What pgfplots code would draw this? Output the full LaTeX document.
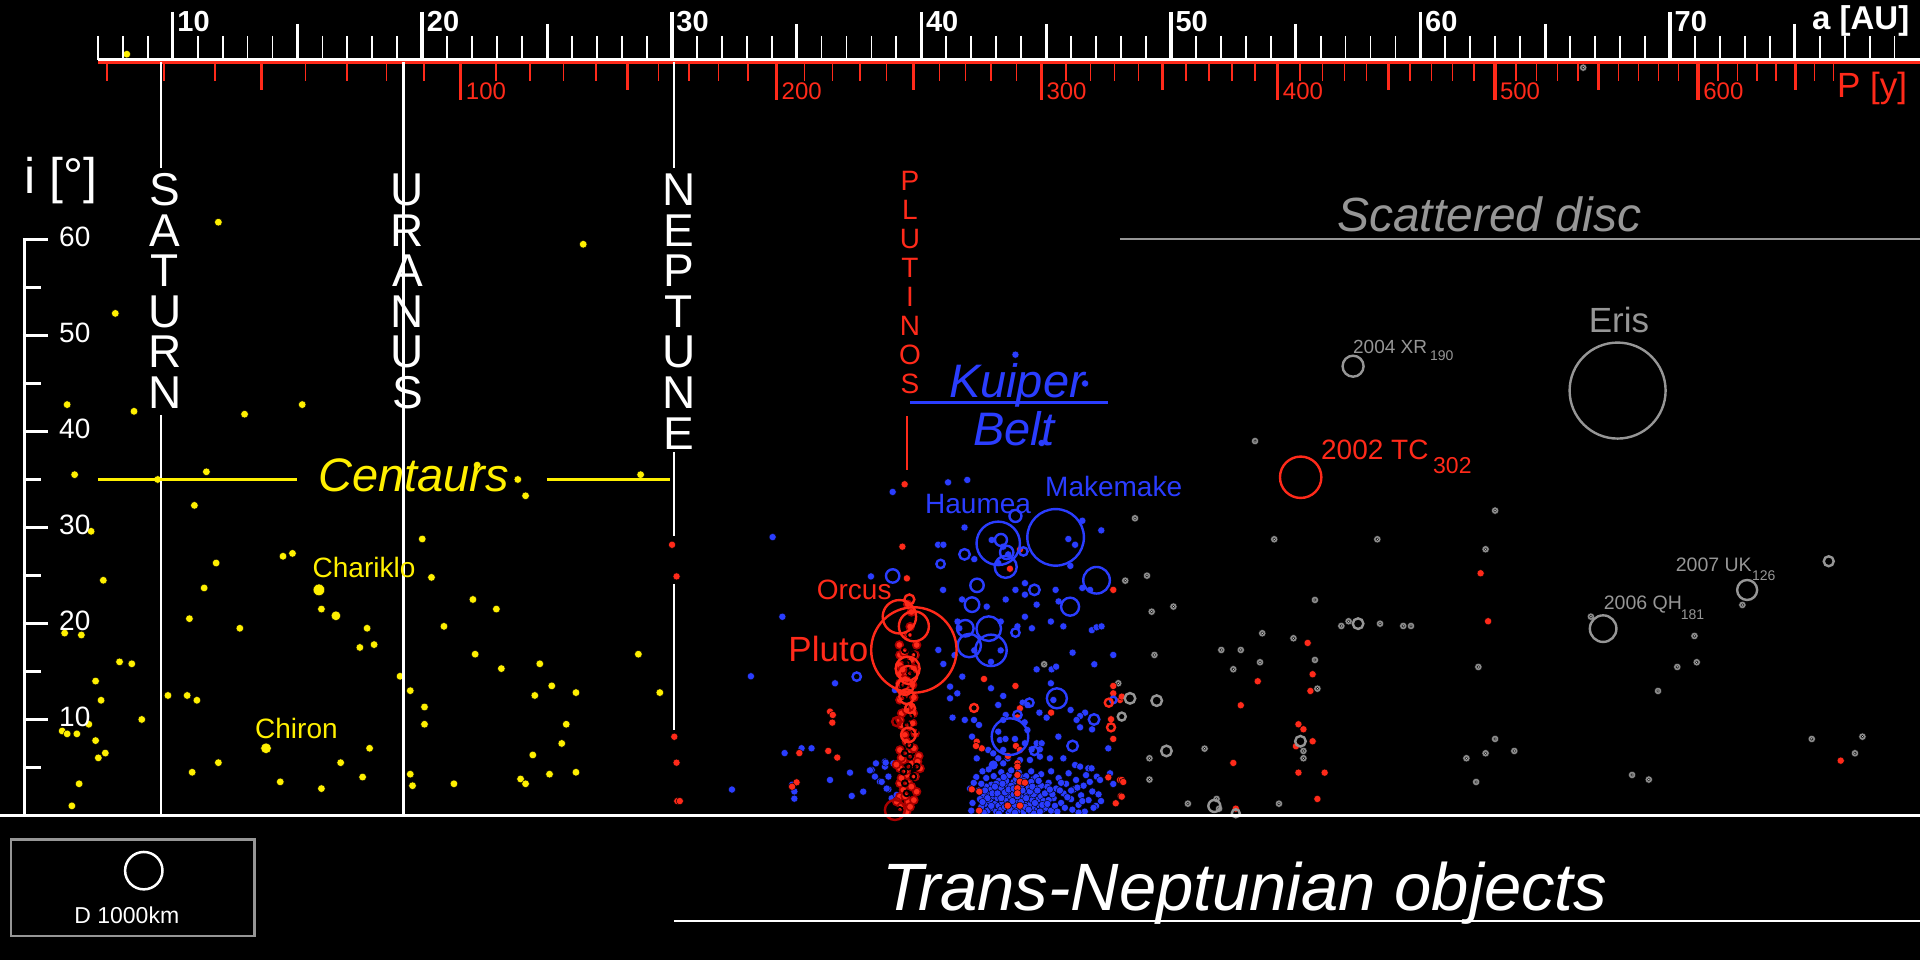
\documentclass[border=0pt]{standalone}
\usepackage{pgfplots}
\pgfplotsset{compat=1.18}
\usepackage{pgfplotstable}
\usepackage{fontspec}
\setmainfont{Liberation Sans}
\definecolor{yel}{RGB}{255,240,0}
\definecolor{blu}{RGB}{42,61,255}
\definecolor{rd}{RGB}{255,42,26}
\definecolor{drd}{RGB}{170,0,0}
\definecolor{gry}{RGB}{150,150,150}
\definecolor{gdot}{RGB}{140,140,140}
\definecolor{gctr}{RGB}{220,220,220}
\newcommand{\fs}[1]{\fontsize{#1}{#1}\selectfont}
\pgfplotsset{
 dot/.style={only marks, mark=*, mark size=3.6pt, mark options={draw=none, fill=#1}},
 ring/.style={only marks, mark=o, mark options={draw=#1, fill=none, line width=2.4pt}},
 pdot/.style={only marks, mark=*, mark size=3.9pt, mark options={draw=drd, fill=rd, line width=1.6pt}},
}
\pgfplotstableread{
a i
44.92 15.75
47.89 13.77
53.37 39.0
48.56 30.96
54.14 28.77
58.27 28.77
62.99 31.76
62.61 27.73
48.17 24.46
49.04 24.98
49.23 21.23
50.1 21.76
55.77 22.45
53.66 18.98
54.91 18.46
56.83 19.74
57.12 20.23
58.38 19.98
59.31 19.74
59.62 19.74
49.34 16.72
52.02 17.24
52.8 17.24
53.57 15.96
52.5 15.23
55.77 16.2
55.87 13.21
62.32 15.47
49.14 5.96
49.14 3.74
51.35 6.96
55.31 6.72
55.31 5.96
62.99 7.97
62.61 6.48
63.76 6.72
61.84 5.96
62.23 3.49
50.68 1.23
54.33 1.23
51.83 1.72
51.93 0.71
66.83 20.71
70.98 18.7
71.07 15.96
70.29 15.47
69.52 12.97
72.9 21.93
75.68 7.97
77.71 8.21
77.41 6.48
68.48 4.22
69.15 3.74
66.52 77.9
}\greydots
\begin{document}
\begin{tikzpicture}
\begin{axis}[width=1920pt,height=960pt,scale only axis,
 xmin=3.0795,xmax=80.018,ymin=-15.052,ymax=84.948,
 axis line style={draw=none}, ticks=none,
 axis background/.style={fill=black}, clip=true]
% grey scattered disc
\addplot[dot=gdot, mark size=3.7pt] table {\greydots};
\addplot[only marks, mark=*, mark size=1.3pt, mark options={draw=none,fill=gctr}] table {\greydots};
% blue classical belt
\addplot[dot=blu] coordinates {
(43.77,48.0) (46.56,45.0) (44.82,38.8) (41.07,34.7) (41.84,34.95) (38.85,33.7) (41.73,30.0) (34.04,29.0) (40.67,28.2) (40.88,28.2) (42.12,26.7) (42.82,28.7) (43.28,28.0) (43.48,27.2) (43.08,26.3) (45.89,28.8) (46.16,28.2) (46.45,30.7) (47.21,29.7) (45.97,26.0) (37.98,24.9) (40.87,23.5) (43.77,23.5) (44.15,24.2) (44.15,23.0) (43.38,22.5) (44.62,21.96) (45.38,23.5) (45.5,22.3) (46.45,23.7) (46.76,23.5) (41.63,22.5) (42.62,21.75) (34.43,20.7) (44.15,20.7) (45.19,20.2) (45.69,19.7) (44.43,19.5) (43.85,19.7) (41.45,20.2) (41.52,19.5) (43.18,20.2) (46.83,19.3) (47.02,19.6) (47.22,19.7)
(33.17,14.5) (34.52,6.5) (32.41,2.7) (34.91,2.5) (34.91,1.75) (34.82,3.2)
(36.54,13.77) (35.2,7.0) (35.6,7.0) (36.34,3.7) (37.14,4.46) (37.21,2.03) (37.67,2.48) (38.01,4.74) (38.18,5.43) (38.14,4.05) (38.34,3.53) (38.54,5.09) (38.68,4.05) (38.54,5.61) (38.88,5.43) (38.68,2.73) (38.81,1.79) (39.01,2.14) (40.68,17.24) (38.94,13.07) (38.57,5.5) (37.94,4.7) (38.41,3.5) (38.61,2.8)
(46.06,16.96) (47.69,16.72) (46.93,15.75) (44.62,15.22) (45.22,15.22) (45.4,15.5) (40.88,15.78) (41.64,14.46) (41.15,13.42) (41.44,12.72) (41.15,12.2) (42.79,13.25) (43.28,12.45) (43.08,11.51) (45.19,13.77) (44.06,11.75) (44.25,11.51) (44.73,10.71) (45.02,10.19) (45.98,10.99) (46.56,10.71) (46.36,10.36) (46.22,9.95) (46.36,9.18) (46.84,8.97) (41.25,10.19) (41.74,9.95) (42.11,9.95) (42.31,9.43) (43.38,10.47) (43.28,9.95) (44.14,9.7) (44.25,8.9) (42.03,8.21) (43.08,8.73) (45.49,8.21) (47.49,6.99) (45.29,12.03)
(42.68,6.82) (42.88,6.47) (43.28,6.82) (43.15,7.86) (43.37,7.97) (43.75,7.97) (44.15,7.52) (44.62,7.52) (44.82,7.52) (44.42,6.89) (44.75,6.89) (42.22,5.95) (43.08,5.95) (43.46,5.95) (43.95,5.78) (44.35,5.78) (44.75,6.13) (45.15,5.95) (45.69,5.95) (46.16,5.26) (46.36,5.09) (46.69,4.91) (46.82,4.91) (47.03,4.04) (47.16,3.7) (47.69,3.28) (47.56,4.39) (43.28,5.43)
(41.33,16.7) (42.12,17.2) (43.18,17.2) (42.79,16.0)
(42.45,4.6) (42.6,3.9) (42.7,4.8) (42.8,3.2) (42.9,4.1) (43.0,2.7) (43.1,3.6) (43.2,4.5) (43.3,1.9) (43.4,3.0) (43.5,4.2) (43.6,2.4) (43.7,3.5) (43.8,1.6) (43.9,2.9) (44.0,4.0) (44.1,2.2) (44.2,3.3) (44.3,1.4) (44.4,2.6) (44.5,3.8) (44.6,1.9) (44.7,2.9) (44.8,4.3) (44.9,1.2) (45.0,2.4) (45.1,3.4) (45.2,4.6) (45.3,1.8) (45.4,2.8) (45.5,3.9) (45.6,1.3) (45.7,2.3) (45.8,3.3) (45.9,4.4) (46.0,1.7) (46.1,2.7) (46.2,3.7) (46.3,1.1) (46.4,2.1) (46.5,3.1) (46.6,4.2) (46.7,1.6) (46.85,2.5) (47.0,1.0) (47.1,2.2)
(42.5,2.0) (42.55,1.2) (42.65,0.5) (42.7,2.4) (42.75,1.5) (42.85,0.8) (42.9,2.0) (42.95,1.2) (43.0,0.4) (43.05,1.8) (43.1,1.0) (43.15,2.3) (43.2,0.6) (43.25,1.4) (43.3,2.6) (43.35,0.9) (43.4,1.7) (43.45,2.2) (43.5,0.3) (43.55,1.2) (43.6,1.9) (43.65,0.7) (43.7,2.2) (43.75,1.1) (43.8,2.6) (43.85,0.5) (43.9,1.5) (43.95,2.1) (44.0,0.9) (44.05,1.8) (44.1,0.4) (44.15,1.3) (44.2,2.4) (44.25,0.7) (44.3,1.9) (44.35,1.1) (44.4,0.3) (44.45,1.6) (44.5,2.2) (44.55,0.8) (44.6,1.4) (44.65,0.5) (44.7,1.7) (44.75,1.0) (44.8,2.0) (44.85,0.6) (44.9,1.5) (45.0,0.8) (45.1,1.6) (45.2,0.5)
(42.6,3.0) (42.8,2.7) (43.0,3.3) (43.2,2.9) (43.4,3.6) (43.6,3.1) (43.8,3.8) (44.0,3.1) (44.2,4.1) (44.4,3.5) (44.6,4.0) (44.8,3.1) (42.4,3.3) (42.35,1.7) (42.3,2.6) (42.4,0.9) (43.3,4.0) (43.9,4.5) (44.1,3.6) (44.3,2.9) (44.5,0.2) (44.7,3.6) (45.05,3.0) (45.25,2.2) (45.35,1.0) (45.45,0.4) (45.55,2.6) (45.75,0.8) (45.85,1.9) (46.05,0.6) (46.25,2.9) (46.45,1.5) (46.55,0.4) (46.75,3.5) (46.9,0.8) (47.2,1.5) (41.95,2.8) (42.05,1.3) (42.2,4.0) (42.1,3.4) (42.0,0.5)
(42.55,2.6) (42.65,1.8) (42.8,1.0) (42.85,2.3) (42.95,3.0) (43.05,2.3) (43.1,0.2) (43.2,1.8) (43.25,3.3) (43.35,2.4) (43.45,1.1) (43.5,2.7) (43.55,0.6) (43.65,1.5) (43.7,2.8) (43.75,0.3) (43.85,2.0) (43.95,3.4) (44.0,1.4) (44.05,2.6) (44.15,0.9) (44.2,1.8) (44.3,0.6) (44.35,2.5) (44.45,3.0) (44.55,1.3) (44.65,2.6) (44.75,0.4) (44.85,1.1) (44.95,2.3) (45.05,1.2) (45.15,2.7) (42.45,1.4) (42.5,0.3) (42.9,5.2) (43.6,4.7) (44.4,4.6) (45.6,3.4) (46.0,2.6) (46.3,0.3)
};
% red resonant objects
\addplot[dot=rd] coordinates {
(30.01,28.2) (30.19,24.9) (30.1,8.2) (30.19,5.5) (30.22,1.5) (30.32,1.5)
(39.33,34.5) (39.24,28.0) (39.42,24.7) (43.95,27.7) (43.55,25.7) (47.69,23.5) (35.11,6.5) (35.0,3.45) (34.82,3.0)
(36.34,10.82) (36.45,10.47) (36.43,9.67) (36.27,6.72) (36.63,6.03)
(42.51,14.22) (43.77,13.49) (43.95,11.16) (43.85,10.22) (45.2,10.71) (42.22,7.69) (42.42,6.99) (42.19,7.24) (43.79,7.24) (43.95,6.82) (43.47,6.2) (43.85,5.43) (43.85,5.09) (43.85,4.22) (43.95,3.52) (44.15,3.42) (43.85,2.83) (43.85,2.31) (42.02,2.72) (42.32,2.48) (43.46,1.02) (43.95,1.02) (42.31,0.5) (47.69,13.49) (47.69,12.72) (47.96,12.03) (47.6,10.02) (47.69,7.97) (47.49,3.97) (47.96,3.7) (47.99,2.03) (47.79,1.27)
(62.41,25.23) (62.71,20.23) (55.48,17.97) (55.68,14.71) (55.59,12.97) (53.48,13.98) (52.8,11.48) (55.11,9.5) (55.31,8.98) (55.68,7.73) (55.01,7.21) (52.5,5.47) (55.11,4.46) (56.16,4.46) (55.87,1.72) (52.6,0.71) (48.03,12.38) (48.03,3.7) (48.09,3.49) (48.03,1.96) (76.84,5.71)
};
% plutinos (3:2 resonance column)
\addplot[pdot] coordinates {
(39.55,19.67) (39.48,18.8) (39.6,21.2) (39.45,22.0)
(39.12,17.76) (39.81,17.76) (39.14,16.72) (39.75,16.72) (39.14,15.68) (39.14,14.81) (39.41,14.64) (39.14,13.77) (39.48,13.07) (39.14,12.03) (39.55,11.34) (39.21,10.64) (39.68,10.64) (39.14,9.95) (39.55,9.25) (39.75,8.56) (39.34,8.39) (39.55,7.17) (39.14,6.82) (39.48,6.48) (39.28,5.78) (39.68,5.78) (39.14,4.91) (39.41,4.22) (39.75,4.05) (39.14,3.35) (39.48,3.35) (39.28,2.66) (39.81,2.48) (39.14,1.96) (39.48,1.44) (39.01,1.44) (39.41,0.4)
(39.3,17.0) (39.6,16.2) (39.25,15.2) (39.7,15.3) (39.35,14.2) (39.65,13.6) (39.3,12.6) (39.7,12.3) (39.4,11.0) (39.2,9.4) (39.65,9.6) (39.4,7.7) (39.7,7.0) (39.2,6.0) (39.6,5.4) (39.4,4.7) (39.2,3.9) (39.6,3.0) (39.35,2.0) (39.7,1.6) (39.2,0.9) (39.55,0.9) (39.9,6.2) (39.95,4.9) (39.85,5.6) (39.0,5.3)
};
% dark red plutino rings
\addplot[ring=drd, mark size=3pt, mark options={line width=1.8pt}] coordinates {
(39.34,17.24) (39.68,16.72) (39.44,15.85) (39.55,14.81) (39.28,13.59) (39.55,12.9) (39.24,12.2) (39.34,11.51) (39.55,10.3) (39.41,9.43) (39.75,8.91) (39.52,7.34) (39.34,6.48) (39.55,6.13) (39.48,5.09) (39.81,5.09) (39.28,4.57) (39.68,4.05) (39.34,3.35) (39.41,2.31) (39.14,0.57) (39.55,18.8)
(39.04,33.0) (39.52,29.5) (39.63,28.7) (39.52,27.7) (40.09,24.0)
};
\addplot[ring=drd, mark size=4.5pt] coordinates {(39.01,9.77)};
\addplot[ring=drd, mark size=10pt] coordinates {(38.94,0.57)};
% blue circles
\addplot[ring=blu, mark size=21.7pt] coordinates {(43.08,28.35)};
\addplot[ring=blu, mark size=28.3pt] coordinates {(45.38,28.97)};
\addplot[ring=blu, mark size=6pt] coordinates {(43.77,31.2) (43.19,28.7)};
\addplot[ring=blu, mark size=6.7pt] coordinates {(43.42,27.4) (38.85,24.95) (42.23,23.97)};
\addplot[ring=blu, mark size=11pt] coordinates {(43.38,25.9)};
\addplot[ring=blu, mark size=4.2pt] coordinates {(44.09,27.5) (40.77,26.2) (43.77,19.05) (44.53,6.72) (44.33,11.75) (43.85,10.47) (37.41,14.46)};
\addplot[ring=blu, mark size=5.3pt] coordinates {(41.73,27.2) (44.53,23.5) (46.92,10.0) (46.06,7.24)};
\addplot[ring=blu, mark size=7.3pt] coordinates {(42.03,21.96)};
\addplot[ring=blu, mark size=13.3pt] coordinates {(47.02,24.5)};
\addplot[ring=blu, mark size=9pt] coordinates {(45.96,21.75)};
\addplot[ring=blu, mark size=12.3pt] coordinates {(42.7,19.46)};
\addplot[ring=blu, mark size=8.3pt] coordinates {(41.76,19.5)};
\addplot[ring=blu, mark size=11.7pt] coordinates {(41.92,17.7)};
\addplot[ring=blu, mark size=15.7pt] coordinates {(42.79,17.2)};
\addplot[ring=blu, mark size=18.3pt] coordinates {(43.55,8.21)};
\addplot[ring=blu, mark size=10pt] coordinates {(45.43,12.2)};
\addplot[ring=blu, mark size=3.3pt] coordinates {(42.88,5.26) (47.69,12.03)};
% red circles
\addplot[ring=rd, mark size=42.7pt] coordinates {(39.70,17.24)};
\addplot[ring=rd, mark size=16.7pt] coordinates {(39.12,20.7)};
\addplot[ring=rd, mark size=15pt] coordinates {(39.70,19.7)};
\addplot[ring=rd, mark size=12pt] coordinates {(39.45,15.3)};
\addplot[ring=rd, mark size=9pt] coordinates {(39.48,14.64)};
\addplot[ring=rd, mark size=8.3pt] coordinates {(39.34,13.42)};
\addplot[ring=rd, mark size=7.3pt] coordinates {(39.41,12.38) (39.48,8.39)};
\addplot[ring=rd, mark size=5pt] coordinates {(39.52,22.5) (39.55,11.16)};
\addplot[ring=rd, mark size=4pt] coordinates {(42.11,11.2) (47.51,11.75) (47.6,9.18)};
\addplot[ring=rd, mark size=20.7pt] coordinates {(55.2,35.23)};
% grey circles
\addplot[ring=gry, mark size=5.3pt] coordinates {(57.5,19.98) (48.36,12.2) (49.43,11.96) (49.82,6.72) (55.19,7.73)};
\addplot[ring=gry, mark size=4pt] coordinates {(48.03,10.3) (52.6,0.23)};
\addplot[ring=gry, mark size=6pt] coordinates {(51.74,0.99)};
\addplot[ring=gry, mark size=13.3pt] coordinates {(67.32,19.46)};
\addplot[ring=gry, mark size=10pt] coordinates {(73.09,23.49)};
\addplot[ring=gry, mark size=5pt] coordinates {(76.36,26.48)};
\addplot[ring=gry, mark size=48pt] coordinates {(67.9,44.26)};
\addplot[ring=gry, mark size=10.5pt] coordinates {(57.3,46.8)};
% yellow centaurs
\addplot[dot=yel, mark size=3.8pt] coordinates {
(11.83,61.8) (26.45,59.5) (7.70,52.3) (5.77,42.8) (8.45,42.1) (12.88,41.8) (15.19,42.8) (6.07,35.5) (9.40,35.0) (11.35,35.8) (22.2,36.5) (23.83,35.0) (24.14,33.3) (28.75,35.5) (10.87,32.3) (6.73,29.6) (20.0,28.8) (14.42,27.0) (14.80,27.3) (11.74,26.3) (7.22,24.5) (20.37,24.8) (11.26,23.7) (22.03,22.5) (22.97,21.5) (15.96,21.5) (10.67,20.5) (12.69,19.5) (17.79,19.5) (20.87,19.7) (5.67,19.0) (6.34,18.8) (17.5,17.5) (18.07,17.8) (7.87,16.0) (8.36,15.8) (22.12,16.8) (28.66,16.8) (23.17,15.3) (24.71,15.8) (6.91,14.0) (19.11,14.5) (25.19,13.5) (19.52,13.0) (26.16,12.8) (29.52,12.8) (9.81,12.5) (10.58,12.5) (10.97,12.0) (7.13,12.0) (24.51,12.5) (20.09,11.3) (8.76,10.0) (6.64,9.5) (20.09,9.5) (25.77,9.5) (5.57,8.8) (5.77,8.5) (6.16,8.5) (6.91,7.8) (7.30,6.5) (7.02,6.0) (17.89,7.0) (25.59,7.5) (24.43,6.3) (11.83,5.5) (16.73,5.5) (10.78,4.5) (17.61,4.0) (19.52,4.3) (19.61,3.1) (14.31,3.5) (15.96,2.8) (21.27,3.3) (23.94,3.8) (24.14,3.3) (25.1,4.3) (26.16,4.5) (6.25,3.3) (5.96,1.0) (8.16,79.3)
};
\addplot[dot=yel, mark size=5.8pt] coordinates {(15.86,23.5)};
\addplot[dot=yel, mark size=4.8pt] coordinates {(16.54,20.8)};
\addplot[dot=yel, mark size=5.3pt] coordinates {(13.74,7.0)};
\end{axis}
\begin{scope}[shift={(current axis.north west)},x=1pt,y=-1pt]
% top a axis
\draw[white,line width=3pt] (98,59.5)--(1920,59.5);
\draw[rd,line width=2.5pt] (98,62.5)--(1920,62.5);
\foreach \a in {7,...,79}{
  \pgfmathsetmacro{\xx}{172.7+(\a-10)*24.955}
  \pgfmathtruncatemacro{\mt}{mod(\a,10)}
  \pgfmathtruncatemacro{\mf}{mod(\a,5)}
  \ifnum\mt=0 \draw[white,line width=3.5pt] (\xx,12)--(\xx,60);
  \else\ifnum\mf=0 \draw[white,line width=3pt] (\xx,24)--(\xx,60);
  \else \draw[white,line width=1.8pt] (\xx,36)--(\xx,60); \fi\fi
}
\foreach \a in {10,20,...,70}{
  \pgfmathsetmacro{\xx}{172.7+(\a-10)*24.955}
  \node[anchor=base west,inner sep=0pt,text=white,font=\fs{29}\bfseries] at (\xx+4.5,32) {\a};
}
\node[anchor=base west,inner sep=0pt,text=white,font=\fs{33}\bfseries] at (1812,30) {a [AU]};
\foreach \p in {20,30,...,670}{
  \pgfmathsetmacro{\xx}{172.7+(pow(\p,2/3)-10)*24.955}
  \pgfmathtruncatemacro{\mh}{mod(\p,100)}
  \pgfmathtruncatemacro{\mf}{mod(\p,50)}
  \ifnum\mh=0 \draw[rd,line width=3.5pt] (\xx,62)--(\xx,100);
  \else\ifnum\mf=0 \draw[rd,line width=3pt] (\xx,62)--(\xx,90);
  \else \draw[rd,line width=1.6pt] (\xx,62)--(\xx,81); \fi\fi
}
\foreach \p in {100,200,...,600}{
  \pgfmathsetmacro{\xx}{172.7+(pow(\p,2/3)-10)*24.955}
  \node[anchor=base west,inner sep=0pt,text=rd,font=\fs{24}] at (\xx+5,100) {\p};
}
\node[anchor=base west,inner sep=0pt,text=rd,font=\fs{35}] at (1837,98) {P [y]};
% i axis
\draw[white,line width=3.5pt] (24.5,239.5)--(24.5,817);
\foreach \t in {0,5,...,60}{
  \pgfmathsetmacro{\yy}{815.5-9.6*\t}
  \pgfmathtruncatemacro{\mt}{mod(\t,10)}
  \ifnum\mt=0 \draw[white,line width=3.5pt] (23,\yy)--(48,\yy);
  \else \draw[white,line width=3.5pt] (23,\yy)--(41,\yy); \fi
}
\foreach \t in {10,20,...,60}{
  \pgfmathsetmacro{\yy}{815.5-9.6*\t}
  \node[anchor=west,inner sep=0pt,text=white,font=\fs{28}] at (59,\yy-3) {\t};
}
\node[anchor=base west,inner sep=0pt,text=white,font=\fs{50}] at (24,194) {i [°]};
% bottom line
\draw[white,line width=2.5pt] (0,815.5)--(1920,815.5);
% planets
\draw[white,line width=2.5pt] (161,62)--(161,168) (161,415)--(161,815.5);
\draw[white,line width=2.5pt] (403.6,62)--(403.6,815.5);
\draw[white,line width=2.5pt] (674,62)--(674,168) (674,452)--(674,536) (674,584)--(674,730);
\foreach \L [count=\k from 0] in {S,A,T,U,R,N}
  \node[inner sep=0pt,text=white,font=\fs{46}] at (165,189.7+40.6*\k) {\L};
\foreach \L [count=\k from 0] in {U,R,A,N,U,S}
  \node[inner sep=0pt,text=white,font=\fs{46}] at (407.5,189.7+40.6*\k) {\L};
\foreach \L [count=\k from 0] in {N,E,P,T,U,N,E}
  \node[inner sep=0pt,text=white,font=\fs{46}] at (679,189.7+40.6*\k) {\L};
\foreach \L [count=\k from 0] in {P,L,U,T,I,N,O,S}
  \node[inner sep=0pt,text=rd,font=\fs{28}] at (910,181.2+28.9*\k) {\L};
\draw[rd,line width=2.5pt] (907,416)--(907,470);
% group labels
\draw[yel,line width=2.5pt] (98,479.5)--(297,479.5) (547,479.5)--(670,479.5);
\node[anchor=base west,inner sep=0pt,text=yel,font=\fs{47}\itshape] at (318,491.8) {Centaurs};
\node[anchor=base west,inner sep=0pt,text=yel,font=\fs{28}] at (312.5,577.5) {Chariklo};
\node[anchor=base west,inner sep=0pt,text=yel,font=\fs{28}] at (255,739) {Chiron};
\node[anchor=base,inner sep=0pt,text=blu,font=\fs{47}\itshape] at (1017,398) {Kuiper};
\node[anchor=base,inner sep=0pt,text=blu,font=\fs{47}\itshape] at (1014,446) {Belt};
\draw[blu,line width=2.5pt] (910,402.5)--(1108,402.5);
\node[anchor=base west,inner sep=0pt,text=blu,font=\fs{28}] at (925,513.3) {Haumea};
\node[anchor=base west,inner sep=0pt,text=blu,font=\fs{28}] at (1045,496.7) {Makemake};
\node[anchor=base west,inner sep=0pt,text=rd,font=\fs{28}] at (816.7,599.3) {Orcus};
\node[anchor=base west,inner sep=0pt,text=rd,font=\fs{35}] at (788.3,661.7) {Pluto};
\node[anchor=base west,inner sep=0pt,text=rd,font=\fs{28}] at (1321,459.3) {2002 TC};
\node[anchor=base west,inner sep=0pt,text=rd,font=\fs{23}] at (1433,473.3) {302};
\node[anchor=base west,inner sep=0pt,text=gry,font=\fs{48}\itshape] at (1337,232) {Scattered disc};
\draw[gry,line width=2pt] (1120,239)--(1920,239);
\node[anchor=base,inner sep=0pt,text=gry,font=\fs{35}] at (1619,333) {Eris};
\node[anchor=base west,inner sep=0pt,text=gry,font=\fs{19}] at (1353,354) {2004 XR};
\node[anchor=base west,inner sep=0pt,text=gry,font=\fs{14}] at (1430,361) {190};
\node[anchor=base west,inner sep=0pt,text=gry,font=\fs{19.5}] at (1675.7,571.7) {2007 UK};
\node[anchor=base west,inner sep=0pt,text=gry,font=\fs{14}] at (1752,581) {126};
\node[anchor=base west,inner sep=0pt,text=gry,font=\fs{19.5}] at (1603.7,610) {2006 QH};
\node[anchor=base west,inner sep=0pt,text=gry,font=\fs{14}] at (1680.7,619.3) {181};
% legend box
\draw[gry,line width=2.5pt] (11,839.3) rectangle (254.5,936);
\draw[white,line width=2.5pt] (143.8,870.7) circle[radius=18.7pt];
\node[anchor=base,inner sep=0pt,text=white,font=\fs{23}] at (126.8,924) {D 1000km};
% title
\node[anchor=base west,inner sep=0pt,text=white,font=\fs{67}\itshape] at (882,911) {Trans-Neptunian objects};
\draw[white,line width=2pt] (674,921)--(1920,921);
\end{scope}
\pgfresetboundingbox
\useasboundingbox (current axis.south west) rectangle (current axis.north east);
\end{tikzpicture}
\end{document}
